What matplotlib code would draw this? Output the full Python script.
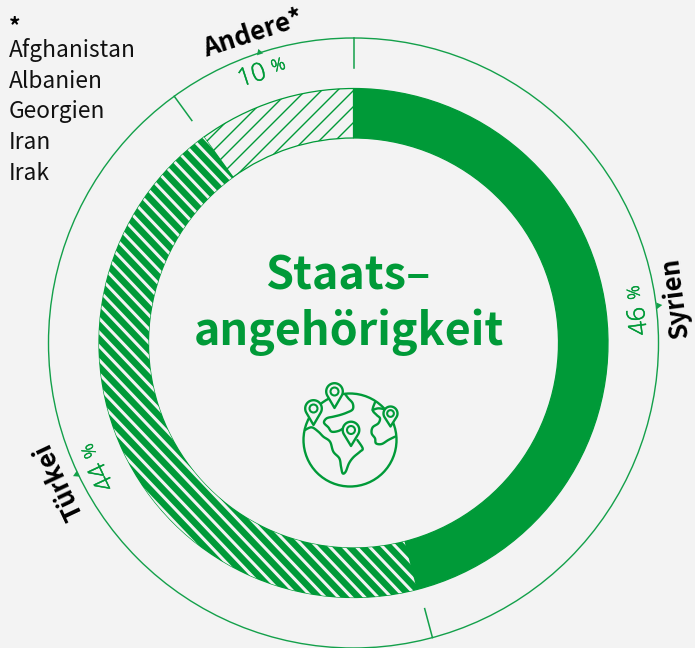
import numpy as np
import matplotlib
matplotlib.use("Agg")
import matplotlib.pyplot as plt
import matplotlib.patheffects as pe
from matplotlib.patches import Circle, Polygon

categories = ["Syrien", "Türkei", "Andere*"]
shares = [46, 44, 10]
other_title = "*"
other_countries = ["Afghanistan", "Albanien", "Georgien", "Iran", "Irak"]
title_lines = ["Staats–", "angehörigkeit"]

GREEN = "#009A38"
LINE = "#13A04A"
BG = "#F3F3F3"
W, H = 695, 648
CX, CY = 353.5, H - 343
R_OUT, R_RING, R_IN = 305, 254.5, 205
FONT = "Noto Sans CJK SC"
LIGHT = "Open Sans"


def Y(v):
    return H - v


def polar(theta, r):
    t = np.radians(theta)
    return CX + r * np.sin(t), CY + r * np.cos(t)


fig = plt.figure(figsize=(W / 100, H / 100), dpi=100, facecolor=BG)
ax = fig.add_axes([0, 0, 1, 1])
ax.set_facecolor(BG)

wedges, _ = ax.pie(shares, startangle=90, counterclock=False, center=(CX, CY), radius=R_RING,
                   colors=[GREEN, GREEN, BG], frame=True,
                   wedgeprops=dict(width=R_RING - R_IN, edgecolor=GREEN, linewidth=0.9))
ax.set_xlim(0, W)
ax.set_ylim(0, H)
ax.set_aspect("equal")
ax.axis("off")


def stripes(wedge, base, step, slope, color, lw):
    """Diagonal fill lines clipped to a ring segment."""
    for k in range(-70, 70):
        x0 = base + k * step
        line, = ax.plot([x0 - 900, x0 + 900], [slope * -900, slope * 900],
                        color=color, lw=lw, solid_capstyle="butt", zorder=2)
        line.set_clip_path(wedge)


stripes(wedges[1], 492.3, 13.2, -1.05, BG, 2.2)
stripes(wedges[2], 428 - H, 16.0, 1.0, GREEN, 1.0)

# outer thin ring
ax.add_patch(Circle((CX, CY), R_OUT, fill=False, ec=LINE, lw=1.0, zorder=3, clip_on=False))

theta = 0.0
pct_r = [286, 284, 285]
tick_shift = [0, -0.6, 0]
label_shift = [-0.8, 0, 0]
bolder = [pe.withStroke(linewidth=0.35, foreground=GREEN)]
for i, (cat, val) in enumerate(zip(categories, shares)):
    x0, y0 = polar(theta + tick_shift[i], R_OUT)
    x1, y1 = polar(theta + tick_shift[i], R_OUT - 30)
    ax.plot([x0, x1], [y0, y1], color=LINE, lw=1.1, zorder=3)
    mid = theta + val * 3.6 / 2
    mx, my = polar(mid, R_OUT + 1.5)
    ax.plot([mx], [my], marker=(3, 0, -mid), ms=5.5, color=LINE, mew=0, zorder=3)
    rot = (-mid) % 360
    if 60 < mid < 120:
        rot = 180 - mid
    lx, ly = polar(mid + label_shift[i], 325)
    ax.text(lx, ly, cat, rotation=rot, rotation_mode="anchor", ha="center", va="center",
            fontsize=18.5, fontweight="bold", family=FONT, color="black", zorder=4)
    px, py = polar(mid, pct_r[i])
    d = np.radians(rot)
    ux, uy = np.cos(d), np.sin(d)
    ax.text(px - 14 * ux, py - 14 * uy, str(val), rotation=rot, rotation_mode="anchor",
            ha="center", va="center", fontsize=18, fontweight="light", family=LIGHT,
            color=GREEN, zorder=4, path_effects=bolder)
    ax.text(px + 14 * ux, py + 14 * uy + 1, "%", rotation=rot, rotation_mode="anchor",
            ha="center", va="center", fontsize=12.5, fontweight="light", family=LIGHT,
            color=GREEN, zorder=4, path_effects=bolder)
    theta += val * 3.6

# footnote
ax.text(9, Y(33), other_title, fontsize=16.4, fontweight="bold", family=FONT, ha="left", va="baseline")
for j, c in enumerate(other_countries):
    ax.text(9, Y(57 + j * 30.7), c, fontsize=16.4, family=FONT, ha="left", va="baseline", color="#111111")

# central title
ax.text(348, Y(290), title_lines[0], fontsize=32.3, fontweight="bold", family=FONT, color=GREEN,
        ha="center", va="baseline")
ax.text(348.5, Y(345), title_lines[1], fontsize=32.3, fontweight="bold", family=FONT, color=GREEN,
        ha="center", va="baseline")


def curve(points, lw=1.7):
    pts = np.array(points, float)
    xs = 280 + pts[:, 0] / 3
    ys = Y(370 + pts[:, 1] / 3)
    P = np.column_stack([xs, ys])
    P = np.vstack([P[0], P, P[-1]])
    out = []
    for a in range(1, len(P) - 2):
        for t in np.linspace(0, 1, 8, endpoint=False):
            out.append(0.5 * ((2 * P[a]) + (-P[a - 1] + P[a + 1]) * t
                              + (2 * P[a - 1] - 5 * P[a] + 4 * P[a + 1] - P[a + 2]) * t ** 2
                              + (-P[a - 1] + 3 * P[a] - 3 * P[a + 1] + P[a + 2]) * t ** 3))
    out.append(P[-2])
    out = np.array(out)
    ax.plot(out[:, 0], out[:, 1], color=GREEN, lw=lw, zorder=5, solid_joinstyle="round",
            solid_capstyle="round")


ax.add_patch(Circle((350, Y(440)), 46.5, fill=False, ec=GREEN, lw=1.7, zorder=5))
curve([(75, 180), (95, 172), (115, 185), (130, 200), (150, 215), (160, 245), (178, 265), (183, 290),
       (188, 310), (197, 305), (207, 280), (220, 262), (240, 245), (248, 235), (232, 210)])
curve([(195, 72), (205, 85), (218, 100), (218, 118), (200, 128), (180, 135), (160, 140), (140, 145),
       (132, 158), (145, 172), (155, 185), (175, 183), (190, 175)])
curve([(285, 97), (278, 120), (290, 135), (300, 145), (295, 160), (278, 172), (275, 190), (285, 205),
       (288, 220), (305, 222), (325, 210), (345, 200)])
curve([(278, 120), (295, 115), (315, 118)])


def pin(cx, cy, r, tip):
    a = np.radians(np.linspace(-30, 210, 40))
    xs = cx + r * np.cos(a)
    ys = Y(cy) + r * np.sin(a)
    verts = list(zip(xs, ys)) + [(cx, Y(cy + tip))]
    ax.add_patch(Polygon(verts, closed=True, fc=BG, ec=GREEN, lw=1.7, joinstyle="round", zorder=6))
    ax.add_patch(Circle((cx, Y(cy)), r * 0.48, fc=BG, ec=GREEN, lw=1.5, zorder=7))


pin(313.5, 408.5, 8.3, 16.5)
pin(334.5, 391.5, 8.3, 16.5)
pin(351, 430, 8.3, 16)
pin(390.5, 413.5, 7, 13)

fig.savefig("out.png", dpi=100, facecolor=BG)
